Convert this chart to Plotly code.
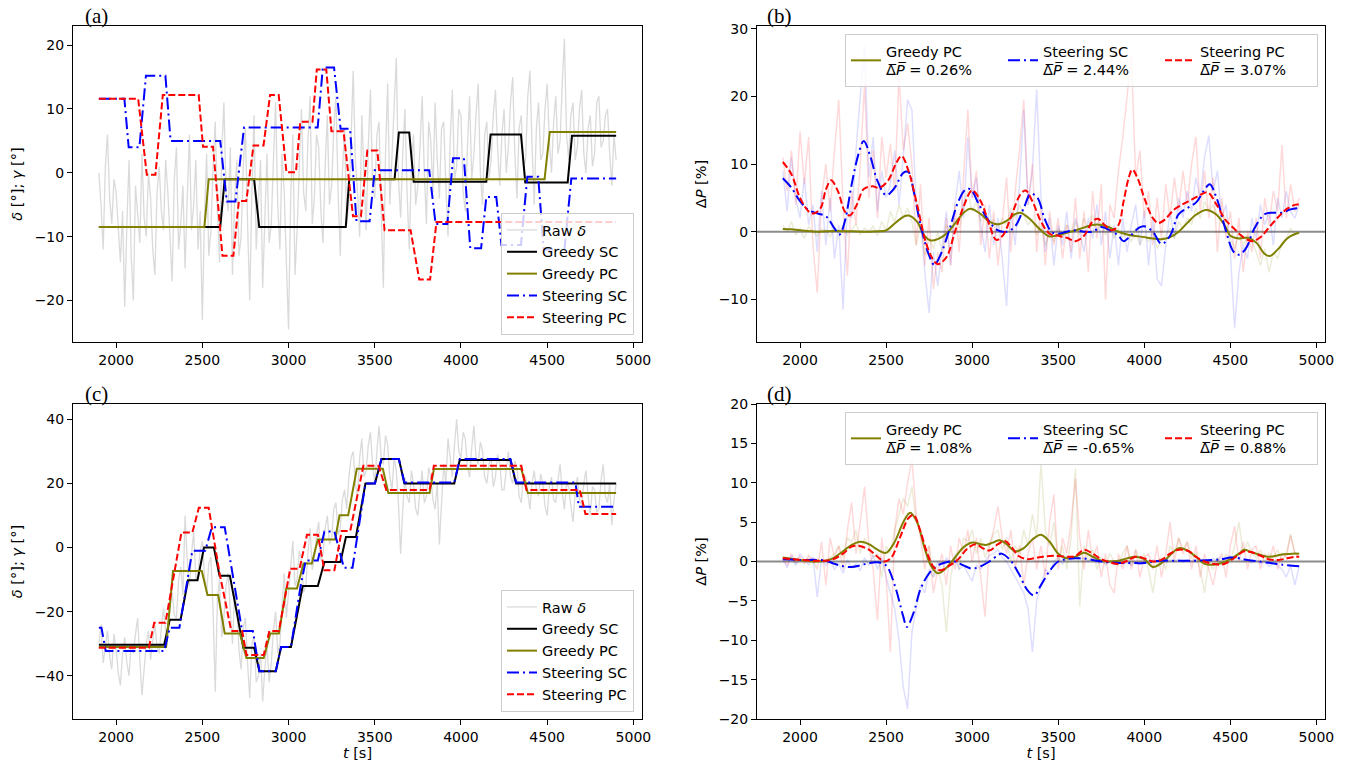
import numpy as np
import plotly.graph_objects as go
from plotly.subplots import make_subplots

# ---------------- panel (a): yaw / wind direction, case 1 ----------------
# raw wind direction, sampled every 12.5 s from t = 1900 s
raw_delta_a = [
    0, -5, -12, 1, 6, -4, -8, -1, -3, -9, -14, -6, -21, -8, 2, -13, -20, -2, -6, -11,
    3, -7, -10, 0, -4, -12, -16, -3, 1, -6, -9, 2, -3, -11, -17, -1, 4, -12, -8, -2,
    -15, -4, 6, -9, -5, 2, -12, -6, -23, -7, 3, -13, -9, 1, 8, -6, -14, 3, 11, -3,
    -6, 4, -16, -4, 2, -13, -10, 1, 7, -8, -20, -3, 9, -12, -5, 2, -18, -7, 3, -11,
    -8, 2, 11, -5, -12, 3, -3, -14, -24.5, -4, 6, -16, -9, 1, 10, -3, -6, 5, 12, -8,
    -4, 6, 4, -6, -11, 1, 9, -5, -2, 7, 12, -3, -13, 0, 7, -8, -5, 5, 16, 2,
    -3, -10, 9, 0, -9, 4, 13, -2, -4, 6, 8, -6, -18, 3, 14, -5, 2, 10, 18, -1,
    -7, 3, 10, -3, -12, 1, 6, -5, -2, 4, 12, 0, -8, 8, 5, -3, 11, 2, -4, 7,
    8, -2, -10, 5, 13, -1, 1, 10, 9, -3, -6, 4, 12, -1, 3, 9, 14, 0, -5, 6,
    8, -1, 2, 9, 13, 4, -2, 6, 10, 0, 4, 11, 15, 3, -4, 7, 9, 1, 2, 12,
    16, 4, -5, 7, 11, 2, 3, 10, 14, 5, 0, 8, 12, 3, 5, 14, 21, 6, 2, 9,
    11, 2, 4, 10, 13, 3, 0, 7, 9, 1, 3, 11, 12, 4, 5, 9, 10, 3, -2, 6,
    2,
]

gsc_a_t = [1900, 2604, 2630, 2800, 2830, 3332, 3352, 3615, 3640, 3700, 3726,
           4147, 4172, 4348, 4373, 4619, 4644, 4900]
gsc_a = [-8.5, -8.5, -1.0, -1.0, -8.5, -8.5, -1.0, -1.0, 6.3, 6.3, -1.4,
         -1.4, 6.0, 6.0, -1.5, -1.5, 5.8, 5.8]

gpc_a_t = [1900, 2512, 2537, 4485, 4515, 4900]
gpc_a = [-8.5, -8.5, -1.0, -1.0, 6.4, 6.4]

ssc_a_t = [1900, 2048, 2073, 2135, 2173, 2286, 2316, 2604, 2642, 2692, 2742,
           3169, 3199, 3264, 3302, 3357, 3394, 3470, 3500, 3816, 3853, 3921,
           3954, 4017, 4054, 4117, 4147, 4205, 4235, 4348, 4385, 4448, 4480,
           4600, 4640, 4900]
ssc_a = [11.6, 11.6, 4.0, 4.0, 15.2, 15.2, 5.0, 5.0, -4.5, -4.5, 7.1,
         7.1, 16.5, 16.5, 6.9, 6.9, -7.6, -7.6, 0.4, 0.4, -8.0, -8.0,
         2.3, 2.3, -11.8, -11.8, -3.8, -3.8, -11.3, -11.3, -0.6, -0.6, -12.0,
         -12.0, -0.9, -0.9]

spc_a_t = [1900, 2128, 2178, 2228, 2271, 2479, 2504, 2562, 2617, 2680, 2712,
           2755, 2797, 2855, 2893, 2943, 2988, 3043, 3068, 3139, 3164, 3219,
           3249, 3319, 3374, 3420, 3457, 3515, 3557, 3708, 3758, 3821, 3858,
           4900]
spc_a = [11.6, 11.6, -0.3, -0.3, 12.2, 12.2, 4.1, 4.1, -13.0, -13.0, -4.4,
         -4.4, 4.3, 4.3, 12.2, 12.2, 0.1, 0.1, 8.0, 8.0, 16.2, 16.2,
         6.5, 6.5, -6.8, -6.8, 3.5, 3.5, -9.0, -9.0, -16.7, -16.7, -7.7,
         -7.7]

# ---------------- panel (b): power gain, case 1 (raw every 25 s) ----------------
dp_gpc_b_raw = [
    1, 0, 1.5, -0.5, 0.5, -1, 0.8, 0, -0.6, 0.4,
    0.2, -0.8, 0.6, 0, 0.9, -0.5, 0.3, 1.2, -0.4, 0.5,
    0, 0.8, -0.6, 1.5, 0.2, 3, 1.4, 4, 2, 3.5,
    1.5, -2, 1, -3.5, -1, -2.5, 0, -3, 1, 0,
    2, 0.5, 4, 6, 3, 4.5, 1.5, 3, 0.5, 1.8,
    0.5, 2, 1, 3.5, 2, 4, 2.5, 1, 2, -0.5,
    1, -2, 0, -1.5, 0.5, -0.8, 1, 0, 1.5, -0.5,
    2, 0.5, 2.5, 0, 1.5, -0.5, 1, -1, 0.5, -0.8,
    0, -1.5, 0.5, -2, -0.5, -1.5, 0, -2.5, -1, -0.5,
    0.5, -1, 1.5, 0.5, 2, 1, 3.5, 2, 4.5, 3,
    4, 2.5, 3, 1, -1, -2.5, 0, -2, -0.5, -1.5,
    -3, -5, -2.5, -6, -3, -4, -1.5, -1, 0.5, -0.5,
    0,
]
dp_ssc_b_raw = [
    9, 3, 11, 5, 2, 8, 1, 4, -3, 6,
    -2, 5, -4, 1, -11.5, 4, 2, 12, 20, 27.5,
    8, 14, 3, 9, 5, 7, 12, 4, 11, 19.5,
    18, 4, 2, -6, -12, -3, -8, -2, 3, -5,
    4, 9, 2, 14, 5, 8, 1, -3, 4, -2,
    2, -4, -11, 3, -2, 7, 18, 4, 9, 21,
    5, -3, 2, -5, 1, -2, 3, -4, 2, 0,
    -3, 2, -1, 4, -2, 3, -4, 1, -5, 2,
    -3, 1, 4, -2, 3, -5, 2, -7, -8, -2,
    3, -1, 5, 2, 6, 3, 8, 5, 11, 14.2,
    6, 9, 2, 4, -3, -14.3, -6, -2, -4, 2,
    -1, 4, 1, 3, -2, 5, 2, 6, 3, 2,
    4,
]
dp_spc_b_raw = [
    11, 6, 12, 4, 14.8, 7, 14, -2, -9, 5,
    10, 3, 12, 19.5, 4, -6.5, 6, 1, 10, 22,
    5, 12, 2, 14, 8, 13, 6, 23, 12, 16,
    10, -2, 7, -5, 2, -8.5, -3, -6, 2, -5,
    4, -3, 8, 18, 5, 9, -2, 4, -4, 3,
    -5, 2, 8, -3, 6, 12, 19.5, 4, 10, -3,
    4, -5, 3, -2, 2, -4, 1, -3, 5, -4,
    3, -6, 6, -1, 7, -10, 4, 2, 9, 14,
    20, 26, 8, 12, 2, 6, -2, 5, -1, 7,
    2, 8, 3, 9, 4, 10, 14, 3, 9, 2,
    8, -3, 5, -1, 3, -4, 2, -6, 0, -3,
    2, -4, 5, 1, 6, 3, 12.8, 2, 7, 3,
    5,
]

gpc_b_t = [1900, 1950, 2000, 2100, 2200, 2300, 2400, 2450, 2500, 2550, 2600,
           2630, 2680, 2720, 2760, 2800, 2850, 2900, 2950, 2990, 3050, 3100,
           3150, 3200, 3250, 3280, 3330, 3400, 3450, 3500, 3600, 3700, 3750,
           3800, 3850, 3900, 4000, 4050, 4100, 4150, 4200, 4250, 4300, 4360,
           4420, 4470, 4500, 4550, 4600, 4650, 4700, 4730, 4780, 4830, 4880,
           4900]
gpc_b = [0.4, 0.35, 0.2, 0.0, 0.1, 0.05, 0.0, 0.05, 0.2, 1.2, 2.2,
         2.4, 1.5, -0.5, -1.3, -1.1, -0.3, 1.2, 2.8, 3.4, 2.6, 1.5,
         1.1, 1.6, 2.6, 2.8, 2.0, 0.2, -0.7, -0.5, 0.2, 1.0, 1.0,
         0.6, 0.0, -0.4, -0.8, -1.0, -1.1, -0.8, 0.0, 1.3, 2.5, 3.2,
         2.5, 0.8, -0.6, -1.0, -0.9, -1.6, -3.3, -3.6, -2.5, -1.0, -0.3,
         -0.2]

ssc_b_t = [1900, 1950, 2000, 2050, 2100, 2150, 2200, 2230, 2260, 2300, 2340,
           2370, 2410, 2450, 2500, 2550, 2600, 2630, 2660, 2700, 2750, 2780,
           2820, 2870, 2920, 2960, 2990, 3040, 3100, 3150, 3200, 3250, 3300,
           3340, 3380, 3420, 3460, 3500, 3550, 3600, 3650, 3700, 3750, 3800,
           3850, 3880, 3920, 3970, 4000, 4050, 4100, 4150, 4200, 4250, 4300,
           4350, 4380, 4420, 4470, 4520, 4550, 4590, 4640, 4700, 4750, 4800,
           4850, 4900]
ssc_b = [7.9, 6.5, 4.5, 3.2, 2.7, 2.3, 0.5, -0.4, 1.5, 7.0, 11.5,
         13.4, 11.0, 7.5, 5.4, 6.5, 8.7, 8.8, 6.0, 1.0, -3.5, -4.9,
         -3.2, 0.5, 4.5, 6.2, 6.3, 4.0, 1.5, 0.2, 0.0, 0.8, 3.5,
         5.6, 5.0, 2.0, 0.0, -0.3, 0.0, 0.2, 0.0, 0.0, 0.7, 0.2,
         -0.6, -1.4, -0.6, 0.6, 0.8, 0.0, -1.8, -0.6, 2.6, 3.5, 4.3,
         6.2, 7.0, 5.0, 0.5, -3.0, -3.4, -2.5, 0.5, 2.6, 2.8, 2.8,
         3.3, 3.5]

spc_b_t = [1900, 1950, 2000, 2050, 2080, 2120, 2150, 2180, 2220, 2260, 2290,
           2330, 2370, 2420, 2460, 2510, 2560, 2590, 2630, 2680, 2730, 2770,
           2800, 2850, 2900, 2950, 3000, 3050, 3100, 3140, 3180, 3230, 3280,
           3310, 3350, 3400, 3450, 3500, 3550, 3600, 3650, 3700, 3730, 3770,
           3810, 3850, 3880, 3910, 3930, 3960, 4000, 4050, 4080, 4120, 4170,
           4220, 4280, 4330, 4370, 4420, 4470, 4520, 4560, 4600, 4630, 4680,
           4730, 4780, 4830, 4880, 4900]
spc_b = [10.3, 8.5, 5.0, 3.0, 2.7, 3.5, 6.2, 7.6, 6.0, 3.0, 2.4,
         4.0, 6.3, 6.7, 6.5, 7.5, 10.2, 11.2, 9.0, 4.0, -1.5, -4.0,
         -4.8, -3.8, 0.0, 3.7, 6.1, 4.5, 1.0, -1.2, -0.5, 2.5, 5.5,
         6.1, 4.5, 1.5, -0.3, -0.6, -0.9, -1.4, -0.6, 1.5, 1.9, 1.0,
         0.2, 1.0, 4.5, 8.0, 9.2, 8.0, 5.0, 2.0, 1.3, 1.8, 3.2,
         4.0, 4.8, 5.5, 5.8, 4.0, 1.8, 0.5, -0.5, -1.2, -1.4, -0.7,
         0.8, 2.2, 3.4, 4.0, 4.0]

# ---------------- panel (c): yaw / wind direction, case 2 ----------------
raw_delta_c = [
    -30, -24, -36, -31, -26, -34, -38, -27, -32, -39, -43, -33, -28, -36, -40, -30, -33, -27, -22, -35,
    -46, -38, -30, -26, -35, -29, -24, -31, -33, -25, -19, -26, -28, -18, -14, -21, -22, -10, -6, -15,
    10, -4, -12, -2, 5, -10, -8, -1, 2, -9, -14, -5, -3, -20, -45, -16, -10, -28, -22, -12,
    -8, -20, -30, -14, -18, -32, -38, -25, -22, -36, -47, -30, -28, -42, -40, -33, -48, -38, -30, -42,
    -36, -26, -20, -33, -30, -18, -8, -22, -14, -6, 2, -12, -10, -1, -4, -14, -12, -2, 6, -7,
    -3, 4, 8, -4, -2, 6, 10, 1, 3, 12, 14, 4, 6, 15, 18, 12, 22, 28, 30, 20,
    16, 28, 34, 22, 24, 32, 36, 26, 20, 30, 38, 28, 26, 35, 32, 22, 18, 28, 24, 14,
    -2, 12, 22, 16, 14, 24, 20, 12, 10, 18, 24, 14, 16, 25, 22, 15, 12, 20, 1, 14,
    26, 20, 34, 28, 22, 32, 40, 30, 28, 36, 34, 25, 22, 31, 38, 28, 26, 33, 30, 22,
    20, 26, 28, 19, 22, 29, 26, 18, 18, 24, 30, 22, 20, 27, 25, 16, 14, 23, 22, 17,
    12, 20, 24, 18, 16, 23, 20, 13, 10, 19, 22, 15, 14, 21, 26, 17, 12, 20, 19, 13,
    8, 17, 22, 15, 13, 20, 24, 16, 10, 19, 18, 11, 12, 21, 26, 16, 14, 20, 7, 15,
    20,
]

gsc_c_t = [1900, 2279, 2311, 2374, 2417, 2472, 2510, 2567, 2600, 2660, 2738,
           2801, 2831, 2926, 2957, 3014, 3082, 3170, 3208, 3301, 3333, 3391,
           3446, 3501, 3539, 3640, 3672, 3961, 3993, 4287, 4320, 4900]
gsc_c = [-30.3, -30.3, -22.5, -22.5, -10.2, -10.2, 0.0, 0.0, -8.8, -8.8, -31.3,
         -31.3, -38.6, -38.6, -31.0, -31.0, -12.0, -12.0, -4.5, -4.5, 3.3, 3.3,
         20.0, 20.0, 27.6, 27.6, 20.0, 20.0, 27.3, 27.3, 20.0, 20.0]

gpc_c_t = [1900, 2290, 2330, 2497, 2530, 2592, 2630, 2718, 2756, 2856, 2894,
           2944, 2987, 3049, 3087, 3135, 3170, 3270, 3296, 3346, 3396, 3547,
           3579, 3818, 3843, 4350, 4388, 4900]
gpc_c = [-31.0, -31.0, -7.3, -7.3, -14.8, -14.8, -26.8, -26.8, -34.5, -34.5, -26.8,
         -26.8, -12.8, -12.8, -5.0, -5.0, 2.5, 2.5, 10.1, 10.1, 24.6, 24.6,
         17.0, 17.0, 24.5, 24.5, 17.0, 17.0]

ssc_c_t = [1900, 1915, 1940, 2279, 2311, 2367, 2442, 2517, 2555, 2630, 2731,
           2793, 2831, 2926, 2957, 3014, 3070, 3100, 3170, 3208, 3266, 3321,
           3371, 3446, 3501, 3539, 3640, 3672, 3961, 3993, 4287, 4320, 4664,
           4684, 4900]
ssc_c = [-25.0, -25.0, -32.3, -32.3, -25.0, -25.0, -1.0, -1.0, 6.3, 6.3, -26.0,
         -26.0, -38.6, -38.6, -31.0, -31.0, -12.0, -4.0, -4.0, 5.0, 5.0, -6.3,
         -6.3, 20.0, 20.0, 27.6, 27.6, 20.3, 20.3, 27.6, 27.6, 20.3, 20.3,
         12.7, 12.7]

spc_c_t = [1900, 2190, 2221, 2286, 2379, 2442, 2480, 2537, 2600, 2668, 2731,
           2756, 2856, 2889, 2944, 3010, 3064, 3107, 3170, 3208, 3266, 3308,
           3358, 3434, 3522, 3567, 3818, 3843, 4350, 4380, 4689, 4722, 4900]
spc_c = [-31.3, -31.3, -23.5, -23.5, 4.7, 4.7, 12.4, 12.4, -8.0, -26.0, -26.0,
         -33.5, -33.5, -26.0, -26.0, -6.6, -6.6, 4.0, 4.0, -7.1, -7.1, 5.2,
         5.2, 25.5, 25.5, 18.0, 18.0, 25.5, 25.5, 18.0, 18.0, 10.5, 10.5]

# ---------------- panel (d): power gain, case 2 (raw every 25 s) ----------------
dp_gpc_d_raw = [
    0.5, 0, 0.4, -0.3, 0.2, 0, 0.5, -0.2, 0.3, 0,
    0.2, 0.5, 1, 2, 0.5, 3, 2.5, 4, 1, 3,
    2, 0.5, 1, -2, 2, 1, 4, 6, 8, 7,
    9.5, 5, 4, 1, 2, -2, -1, -3, -9, -2,
    1, -1, 3, 2.5, 4, 1, 3, 0.5, 2, 3.5,
    4, 1.5, 3, 0, 2, 1, 4, 2, 6, 3,
    12.5, 4, 2, 5, 0, 2, -1, 3, 11.8, -5.7,
    2, 0, 1.5, -1, 0.5, -0.5, 1, 0, -0.5, 1,
    2, -0.5, 1.5, 0, 1, -1, -4, 0, 0.5, -1,
    2, 1, 3, 1.5, 2.5, 0.5, 1, -1, -4, 0,
    -1, 0.5, -0.5, 1, 0, 2, 5, 1, 2.5, 1,
    0.5, 1.5, 0, 1, 0.5, 1.5, 0, 1, 3.5, 1,
    1,
]
dp_ssc_d_raw = [
    0.3, -0.8, 0.8, -0.5, 1, 0.2, -0.4, 0.6, -4.5, 0.3,
    -0.5, 0.3, -1, -0.3, -1.5, 0.2, -0.8, -0.3, -1.2, 0.5,
    -0.5, 0.8, -1, 0.5, -2, -4, -6, -10, -16, -18.7,
    -9, -6, -3, -4, -1, -2, 0, -1.5, 0.5, -0.5,
    0.5, -1, -0.5, -1.5, -2.5, -0.5, -1, 0, 0.8, 1,
    1.5, 0.5, 0, -1, -2, -3, -4, -6, -11.5, -5,
    -3, -1, -1.5, 0, 0.5, -0.3, 0.6, 0.2, 0.5, 0.3,
    0.4, 0, 0.3, -0.2, 0.1, -0.3, -0.1, -0.4, 0, -0.3,
    -0.2, -0.5, 0, -0.4, 0.1, -0.2, 0.2, 0, 0.3, -0.1,
    0.2, 0, 0.3, -0.1, 0.2, 0, 0.3, 0.1, 0.2, 0,
    0.4, 0.1, 0.5, 0.2, 0.7, 0.3, 0.5, 0, 0.3, -0.2,
    0.2, -0.3, 0, -0.6, -0.2, -0.5, -1, -2, -0.5, -3,
    -0.6,
]
dp_spc_d_raw = [
    0.5, -0.5, 1, 0, 0.6, -0.3, 0.8, 0.2, -1, 2.5,
    -3, 3, 0.5, 2, -1, 4, 7.5, 1, 5, 9.5,
    2, -1, -7.5, 3, -2, -11.5, 4, 8, 6, 10,
    13, 6, 3, -1, 2, -4, -1, 1, -3, 2,
    -1, 3, 1, 4, 0, 3, -2, -7, 2, 4,
    7, 3, 1, 4, -1, 2, -3, 1, 3, -1,
    2, -2, 5, 8.5, -1, 3, 1, 5, 10.5, 3,
    -1, 4, 0, 2, -2, 1, -3, -4, 1, -1,
    2, -1, 1.5, -2, 0.5, 1, -1, 2, -2, 1,
    5, 0, 3, 1, 2.5, -1, 2, -2, 1, -1,
    -3, 0, 1, -2, 2, 4.5, 0, 2.5, -1, 1.5,
    2, -1, 1, 0, 2, -1, 1, 0.5, 3.3, 1,
    0.5,
]

gpc_d_t = [1900, 2000, 2100, 2180, 2250, 2300, 2350, 2400, 2450, 2500, 2550,
           2600, 2640, 2680, 2720, 2760, 2800, 2850, 2900, 2950, 3000, 3050,
           3080, 3120, 3160, 3200, 3250, 3300, 3350, 3400, 3450, 3500, 3550,
           3600, 3650, 3700, 3750, 3800, 3850, 3900, 3950, 4000, 4050, 4100,
           4150, 4200, 4250, 4300, 4350, 4400, 4450, 4500, 4550, 4580, 4620,
           4680, 4720, 4760, 4800, 4860, 4900]
gpc_d = [0.5, 0.2, 0.0, 0.3, 1.3, 2.1, 2.5, 2.2, 1.5, 1.1, 2.5,
         5.0, 6.2, 5.0, 2.0, -0.5, -1.5, -0.8, 0.5, 1.8, 2.4, 2.2,
         2.1, 2.4, 2.7, 2.2, 1.3, 1.7, 2.8, 3.4, 2.5, 1.0, 0.4,
         0.6, 1.1, 0.6, 0.1, 0.0, 0.1, 0.4, 0.6, 0.3, -0.7, -0.2,
         0.8, 1.7, 1.4, 0.6, -0.3, -0.4, -0.2, 0.3, 1.0, 1.5, 1.2,
         0.8, 0.6, 0.7, 0.9, 1.0, 1.0]

ssc_d_t = [1900, 2000, 2100, 2150, 2200, 2250, 2300, 2350, 2400, 2450, 2500,
           2550, 2600, 2620, 2660, 2700, 2750, 2800, 2850, 2900, 2950, 3000,
           3050, 3100, 3150, 3170, 3220, 3270, 3320, 3360, 3400, 3450, 3500,
           3550, 3600, 3650, 3700, 3750, 3800, 3850, 3900, 3950, 4000, 4050,
           4100, 4200, 4300, 4400, 4450, 4500, 4550, 4600, 4700, 4800, 4900]
ssc_d = [0.3, 0.2, 0.2, 0.1, -0.3, -0.6, -0.7, -0.5, -0.2, -0.1, -0.5,
         -3.0, -7.0, -8.3, -6.5, -3.5, -1.5, -0.5, -0.1, 0.0, -0.5, -0.9,
         -0.6, 0.0, 0.8, 1.0, 0.2, -1.5, -3.6, -4.3, -3.0, -1.2, 0.0,
         0.3, 0.4, 0.4, 0.2, 0.0, -0.1, -0.2, -0.2, -0.2, -0.2, 0.0,
         0.1, 0.1, 0.1, 0.2, 0.3, 0.5, 0.4, 0.2, -0.1, -0.4, -0.6]

spc_d_t = [1900, 2000, 2100, 2180, 2250, 2300, 2340, 2400, 2450, 2490, 2530,
           2580, 2630, 2660, 2700, 2740, 2780, 2820, 2870, 2920, 2970, 3020,
           3060, 3100, 3150, 3190, 3230, 3270, 3320, 3380, 3450, 3500, 3560,
           3600, 3650, 3700, 3750, 3800, 3850, 3900, 3950, 4000, 4050, 4100,
           4150, 4200, 4260, 4300, 4350, 4400, 4450, 4500, 4550, 4580, 4620,
           4680, 4720, 4780, 4830, 4880, 4900]
spc_d = [0.4, 0.2, 0.1, 0.2, 1.0, 1.9, 2.0, 1.5, 0.6, 0.0, 0.5,
         3.0, 5.5, 5.9, 3.8, 1.0, -0.8, -1.1, -0.5, 0.3, 1.6, 2.2,
         1.7, 1.4, 2.2, 2.6, 1.8, 0.7, 0.3, 0.5, 0.7, 0.7, 0.6,
         0.7, 1.5, 1.0, 0.3, -0.1, -0.3, 0.1, 0.6, 0.4, 0.0, 0.2,
         1.0, 1.5, 1.3, 0.6, 0.0, -0.3, -0.4, 0.1, 0.9, 1.3, 1.2,
         0.7, 0.3, 0.2, 0.4, 0.6, 0.6]

mean_dp_b = {"Greedy PC": "0.26", "Steering SC": "2.44", "Steering PC": "3.07"}
mean_dp_d = {"Greedy PC": "1.08", "Steering SC": "-0.65", "Steering PC": "0.88"}

# ---------------- styling ----------------
FONT = "DejaVu Sans"
OLIVE = "#808000"
DASHDOT = "12px,4px,2px,4px"
DASHED = "7px,3px"
W, H = 1354, 765


def tt(vals, dt=25):
    return 1900 + dt * np.arange(len(vals))


def line(fig, x, y, name, color, row, col, legend, dash="solid", width=2,
         showlegend=True, shape="linear"):
    fig.add_trace(go.Scatter(x=x, y=y, mode="lines", name=name,
                             line=dict(color=color, width=width, dash=dash,
                                       shape=shape),
                             legend=legend, showlegend=showlegend,
                             hoverinfo="skip"),
                  row=row, col=col)


fig = make_subplots(rows=2, cols=2)

# (a) and (c): angle panels
for row, raw, g_sc, g_pc, s_sc, s_pc, leg in [
        (1, raw_delta_a, (gsc_a_t, gsc_a), (gpc_a_t, gpc_a), (ssc_a_t, ssc_a), (spc_a_t, spc_a), "legend"),
        (2, raw_delta_c, (gsc_c_t, gsc_c), (gpc_c_t, gpc_c), (ssc_c_t, ssc_c), (spc_c_t, spc_c), "legend3")]:
    line(fig, tt(raw, 12.5), raw, "Raw <i>δ</i>", "rgba(211,211,211,0.85)", row, 1, leg, width=1.3)
    line(fig, g_sc[0], g_sc[1], "Greedy SC", "black", row, 1, leg)
    line(fig, g_pc[0], g_pc[1], "Greedy PC", OLIVE, row, 1, leg)
    line(fig, s_sc[0], s_sc[1], "Steering SC", "blue", row, 1, leg, dash=DASHDOT)
    line(fig, s_pc[0], s_pc[1], "Steering PC", "red", row, 1, leg, dash=DASHED)

# (b) and (d): power gain panels
for row, raws, smooth, means, leg in [
        (1, (dp_gpc_b_raw, dp_ssc_b_raw, dp_spc_b_raw),
         ((gpc_b_t, gpc_b), (ssc_b_t, ssc_b), (spc_b_t, spc_b)), mean_dp_b, "legend2"),
        (2, (dp_gpc_d_raw, dp_ssc_d_raw, dp_spc_d_raw),
         ((gpc_d_t, gpc_d), (ssc_d_t, ssc_d), (spc_d_t, spc_d)), mean_dp_d, "legend4")]:
    faint = ["rgba(128,128,0,0.15)", "rgba(0,0,255,0.13)", "rgba(255,0,0,0.15)"]
    for vals, c in zip(raws, faint):
        line(fig, tt(vals), vals, "", c, row, 2, leg, width=1.5, showlegend=False)
    fig.add_hline(y=0, row=row, col=2, line_color="rgba(128,128,128,0.9)",
                  line_width=2, layer="below")
    names = ["Greedy PC", "Steering SC", "Steering PC"]
    colors = [OLIVE, "blue", "red"]
    dashes = ["solid", DASHDOT, DASHED]
    for (t, v), n, c, d in zip(smooth, names, colors, dashes):
        label = n + "<br>\u0394\u0305<i>P\u0305</i> = " + means[n] + "%"
        line(fig, t, v, label, c, row, 2, leg, dash=d, shape="spline")

# ---------------- layout ----------------
xdom_l = [73 / W, 642 / W]
xdom_r = [757 / W, 1325 / W]
ydom_t = [1 - 342 / H, 1 - 26 / H]
ydom_b = [1 - 719 / H, 1 - 404 / H]

axis_style = dict(showline=True, linecolor="black", linewidth=1, mirror=True,
                  ticks="outside", ticklen=5, tickwidth=1, tickcolor="black",
                  showgrid=False, zeroline=False, automargin=False,
                  tickfont=dict(family=FONT, size=14, color="black"))
title_font = dict(family=FONT, size=14.5, color="black")

fig.update_xaxes(**axis_style, range=[1750, 5050], tick0=2000, dtick=500)
fig.update_xaxes(domain=xdom_l, row=1, col=1)
fig.update_xaxes(domain=xdom_r, row=1, col=2)
fig.update_xaxes(domain=xdom_l, row=2, col=1,
                 title=dict(text="<i>t</i> [s]", font=title_font, standoff=3))
fig.update_xaxes(domain=xdom_r, row=2, col=2,
                 title=dict(text="<i>t</i> [s]", font=title_font, standoff=3))

fig.update_yaxes(**axis_style)
fig.update_yaxes(domain=ydom_t, row=1, col=1, range=[-26.5, 23.0], dtick=10,
                 title=dict(text="<i>δ</i> [°]; <i>γ</i> [°]", font=title_font, standoff=8))
fig.update_yaxes(domain=ydom_t, row=1, col=2, range=[-16.3, 30.4], dtick=10,
                 title=dict(text="Δ<i>P</i> [%]", font=title_font, standoff=8))
fig.update_yaxes(domain=ydom_b, row=2, col=1, range=[-53.5, 44.8], dtick=20,
                 title=dict(text="<i>δ</i> [°]; <i>γ</i> [°]", font=title_font, standoff=8))
fig.update_yaxes(domain=ydom_b, row=2, col=2, range=[-20, 20], dtick=5,
                 title=dict(text="Δ<i>P</i> [%]", font=title_font, standoff=8))

legend_common = dict(bgcolor="rgba(255,255,255,0.8)", bordercolor="#cccccc",
                     borderwidth=1, font=dict(family=FONT, size=14.5, color="black"))
fig.update_layout(
    width=W, height=H, autosize=False,
    margin=dict(l=0, r=0, t=0, b=0),
    paper_bgcolor="white", plot_bgcolor="white",
    font=dict(family=FONT, size=14, color="black"),
    legend=dict(**legend_common, x=634 / W, xanchor="right",
                y=1 - 335 / H, yanchor="bottom"),
    legend3=dict(**legend_common, x=634 / W, xanchor="right",
                 y=1 - 712 / H, yanchor="bottom"),
    legend2=dict(**legend_common, orientation="h", x=1318 / W, xanchor="right",
                 y=1 - 34 / H, yanchor="top", entrywidth=112),
    legend4=dict(**legend_common, orientation="h", x=1318 / W, xanchor="right",
                 y=1 - 412 / H, yanchor="top", entrywidth=112),
)

for lab, x0, ytop in [("(a)", 83, 26), ("(b)", 765, 26), ("(c)", 83, 404), ("(d)", 765, 404)]:
    fig.add_annotation(text=lab, x=x0 / W, y=1 - ytop / H, xref="paper", yref="paper",
                       xanchor="left", yanchor="bottom", showarrow=False, yshift=-4,
                       font=dict(family="Liberation Serif", size=21, color="black"))

# drop the browser's default body margin so the figure fills the window
fig.write_html("out.html", config={"displayModeBar": False},
               post_script="document.body.style.margin='0';")
